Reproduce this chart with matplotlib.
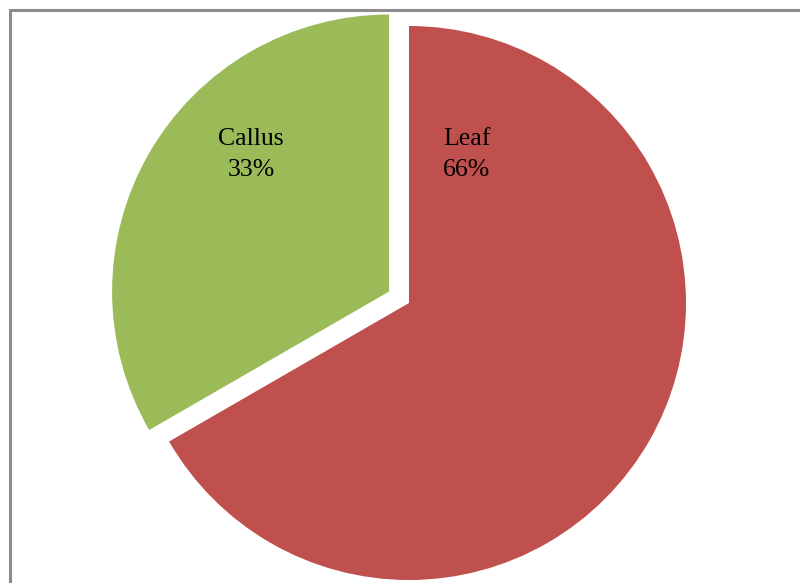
import matplotlib.pyplot as plt
from matplotlib.patches import Rectangle

labels = ['Leaf', 'Callus']
values = [66, 33]
colors = ['#C0504D', '#9BBB59']
explode = [0, 0.083]

plt.rcParams['font.family'] = ['Liberation Serif', 'DejaVu Serif']

fig = plt.figure(figsize=(8, 5.83), dpi=100)
ax = fig.add_axes([0, 0, 1, 1])

wedges, _ = ax.pie(values, colors=colors, explode=explode, startangle=90,
                   counterclock=False, radius=1, center=(0, 0),
                   wedgeprops=dict(linewidth=0))

# pie centre sits at (409, 303) px with a 277 px radius
scale = 277.0
ax.set_xlim(-409 / scale, (800 - 409) / scale)
ax.set_ylim(-(583 - 303) / scale, 303 / scale)
ax.set_aspect('auto')
ax.axis('off')

label_pos = [(0.209, 0.535), (-0.570, 0.535)]
for name, v, (x, y) in zip(labels, values, label_pos):
    ax.text(x, y, f'{name}\n{v:.0f}%', ha='center', va='center',
            fontsize=18.5, linespacing=1.55, color='black')

# chart frame, clipped by the image edges on the right and bottom
fig.patches.append(Rectangle((10 / 800, -0.1), 1.2, (583 - 10) / 583 + 0.1,
                             transform=fig.transFigure, fill=False,
                             edgecolor='#8c8c8c', linewidth=2.2))

fig.savefig('out.png', dpi=100)
